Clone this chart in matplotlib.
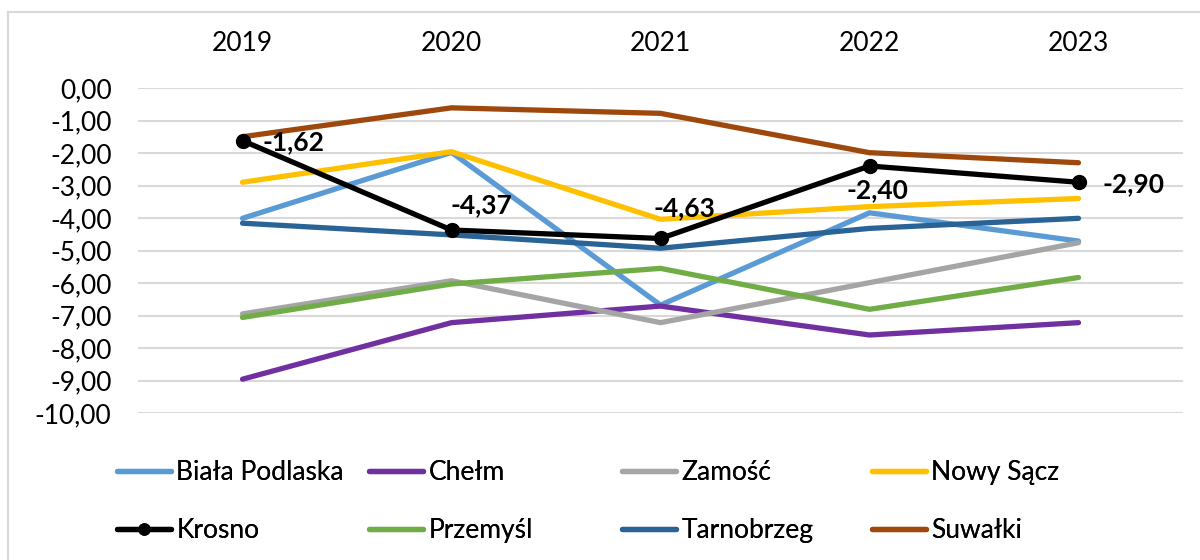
import matplotlib.pyplot as plt
from matplotlib.lines import Line2D
from matplotlib.ticker import FuncFormatter

plt.rcParams['font.family'] = ['Lato', 'DejaVu Sans']

# Dane
lata = ['2019', '2020', '2021', '2022', '2023']
biala_podlaska = [-4.01, -1.98, -6.68, -3.84, -4.71]
chelm = [-8.96, -7.22, -6.71, -7.60, -7.22]
zamosc = [-6.95, -5.93, -7.22, -5.99, -4.76]
nowy_sacz = [-2.90, -1.96, -4.04, -3.65, -3.40]
krosno = [-1.62, -4.37, -4.63, -2.40, -2.90]
przemysl = [-7.06, -6.03, -5.55, -6.81, -5.83]
tarnobrzeg = [-4.16, -4.52, -4.93, -4.32, -4.01]
suwalki = [-1.50, -0.61, -0.78, -1.99, -2.30]

serie = [
    ('Biała Podlaska', biala_podlaska, '#5B9BD5'),
    ('Chełm', chelm, '#7030A0'),
    ('Zamość', zamosc, '#A5A5A5'),
    ('Nowy Sącz', nowy_sacz, '#FFC000'),
    ('Krosno', krosno, '#000000'),
    ('Przemyśl', przemysl, '#70AD47'),
    ('Tarnobrzeg', tarnobrzeg, '#2A6496'),
    ('Suwałki', suwalki, '#9E480E'),
]

fig = plt.figure(figsize=(12, 5.6), dpi=100)
ax = fig.add_axes([138 / 1200, 1 - 413 / 560, (1183 - 138) / 1200, (413 - 88) / 560])

x = list(range(len(lata)))
uchwyty = []
for nazwa, wartosci, kolor in serie:
    if nazwa == 'Krosno':
        h, = ax.plot(x, wartosci, color=kolor, lw=3.8, marker='o', ms=10,
                     solid_capstyle='round', zorder=5, label=nazwa)
    else:
        h, = ax.plot(x, wartosci, color=kolor, lw=3.8, solid_capstyle='round',
                     zorder=3, label=nazwa)
    uchwyty.append(h)

# Etykiety danych dla Krosna (przesunięcia w pikselach)
przesuniecia = [(20, -1, 'left'), (-1, 25, 'left'), (-7, 30, 'left'),
                (8, -24, 'center'), (24, -2, 'left')]
for i, v in enumerate(krosno):
    dx, dy, ha = przesuniecia[i]
    ax.annotate(f'{v:.2f}'.replace('.', ','), (i, v), xytext=(dx, dy),
                textcoords='offset pixels', ha=ha, va='center',
                fontsize=19, fontweight='bold', zorder=6)

ax.set_xlim(-0.5, 4.5)
ax.set_ylim(-10, 0)
ax.set_yticks(range(-10, 1))
ax.yaxis.set_major_formatter(FuncFormatter(
    lambda v, p: f'{abs(v):.2f}'.replace('.', ',') if v == 0 else f'{v:.2f}'.replace('.', ',')))
ax.set_xticks(x)
ax.set_xticklabels(lata)
ax.xaxis.tick_top()
ax.tick_params(axis='x', length=0, pad=23, labelsize=19)
ax.tick_params(axis='y', length=0, pad=19, labelsize=19)
ax.grid(axis='y', color='#D9D9D9', lw=1.5, zorder=0)
ax.set_axisbelow(True)
for s in ax.spines.values():
    s.set_visible(False)

# Legenda - 4 kolumny o równej szerokości
kolumny = [(0, 4), (1, 5), (2, 6), (3, 7)]
x_kol = [117, 369, 622, 872]
for (a, b), xp in zip(kolumny, x_kol):
    leg = fig.legend([uchwyty[a], uchwyty[b]], [serie[a][0], serie[b][0]],
                     loc='upper left', bbox_to_anchor=(xp / 1200, 1 - 460 / 560),
                     frameon=False, fontsize=19, handlelength=2.05,
                     handletextpad=0.2, labelspacing=1.25, borderaxespad=0,
                     borderpad=0, markerscale=0.8)
    fig.add_artist(leg)

# Ramka wykresu
fig.add_artist(Line2D([8 / 1200, 8 / 1200], [0, 1 - 12 / 560], color='#D9D9D9', lw=1.5))
fig.add_artist(Line2D([8 / 1200, 1], [1 - 12 / 560, 1 - 12 / 560], color='#D9D9D9', lw=1.5))

fig.savefig('out.png', dpi=100)
